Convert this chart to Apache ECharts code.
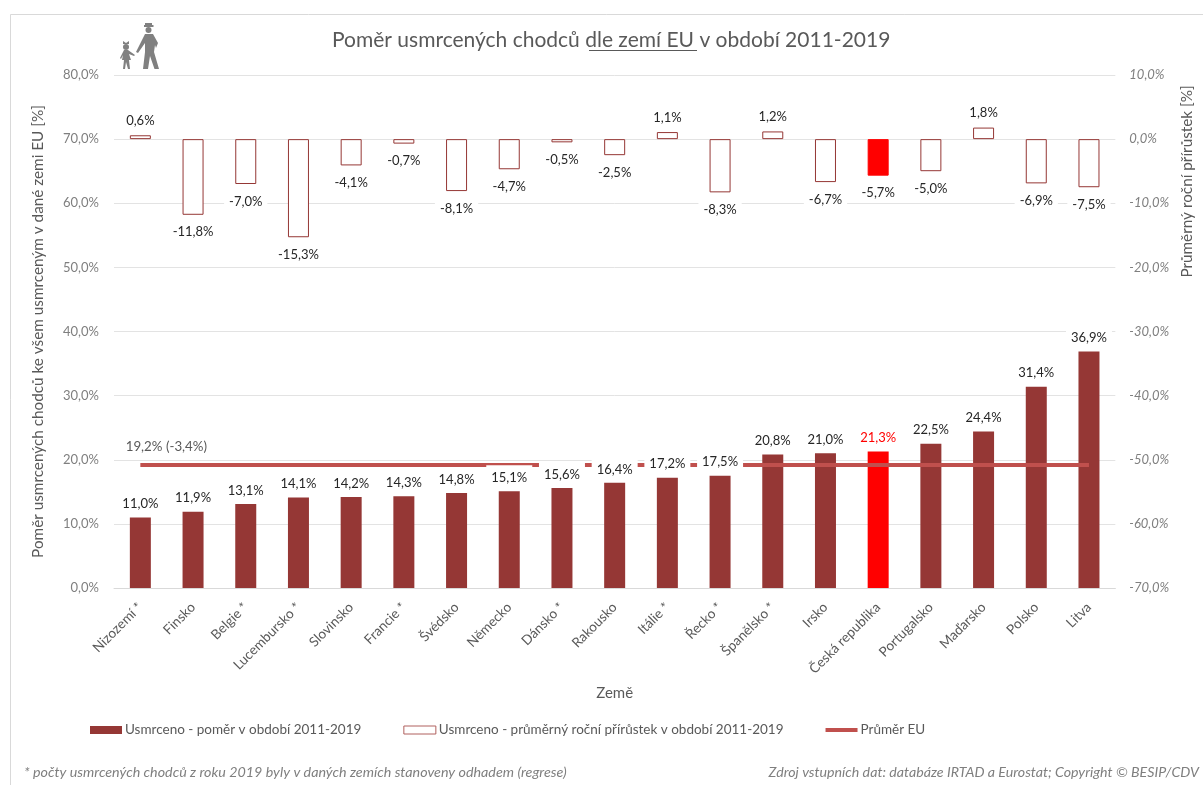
<!DOCTYPE html>
<html><head><meta charset="utf-8">
<style>html,body{margin:0;padding:0;background:#fff}#c{width:1203px;height:785px}</style>
<script src="https://cdn.jsdelivr.net/npm/echarts@6/dist/echarts.min.js"></script>
</head><body><div id="c"></div>
<script>
const countries = ['Nizozemí *','Finsko','Belgie *','Lucembursko *','Slovinsko','Francie *','Švédsko','Německo','Dánsko *','Rakousko','Itálie *','Řecko *','Španělsko *','Irsko','Česká republika','Portugalsko','Maďarsko','Polsko','Litva'];
const shareValues = [11.0,11.9,13.1,14.1,14.2,14.3,14.8,15.1,15.6,16.4,17.2,17.5,20.8,21.0,21.3,22.5,24.4,31.4,36.9];
const growthValues = [0.6,-11.8,-7.0,-15.3,-4.1,-0.7,-8.1,-4.7,-0.5,-2.5,1.1,-8.3,1.2,-6.7,-5.7,-5.0,1.8,-6.9,-7.5];
const euAverage = [19.2,19.2,19.2,19.2,19.2,19.2,19.2,19.2,19.2,19.2,19.2,19.2,19.2,19.2,19.2,19.2,19.2,19.2,19.2];
const euAverageLabel = '19,2% (-3,4%)';
const highlighted = 'Česká republika';
const seriesNames = ['Usmrceno - poměr v období 2011-2019','Usmrceno - průměrný roční přírůstek v období 2011-2019','Průměr EU'];

const FONT = 'Lato';
const DARK = '#953735', RED = '#ff0000', LINE = '#c0504d', GREY = '#7f7f7f', TXT = '#595959', INK = '#262626';
const pct = v => v.toFixed(1).replace('.', ',') + '%';
const labelBase = {show:true, fontFamily:FONT, fontSize:13, color:INK, backgroundColor:'#fff'};

const chart = echarts.init(document.getElementById('c'), null, {renderer:'canvas'});
const figure = {fill:'#808080'};
chart.setOption({
  animation:false,
  backgroundColor:'#fff',
  title:{text:'Poměr usmrcených chodců dle zemí EU v období 2011-2019', left:327, top:25,
    textStyle:{fontFamily:FONT, fontSize:21, fontWeight:'normal', color:TXT}},
  grid:{left:114, right:86, top:75, bottom:197, containLabel:false},
  legend:{left:85, top:718, itemWidth:32, itemHeight:8, itemGap:42,
    data:[{name:seriesNames[0],icon:'rect'},{name:seriesNames[1],icon:'rect',itemStyle:{borderWidth:1,borderColor:'#b0605e'}},
          {name:seriesNames[2],icon:'path://M0,0L0,0M0,2H32V6H0ZM32,8L32,8'}],
    textStyle:{fontFamily:FONT, fontSize:13.5, color:TXT, padding:[0,0,0,-2]}},
  xAxis:{type:'category', data:countries, axisTick:{show:false},
    axisLine:{lineStyle:{color:'#d9d9d9'}, onZero:false},
    axisLabel:{rotate:45, interval:0, margin:17, fontFamily:FONT, fontSize:13.6, color:TXT},
    name:'Země', nameLocation:'middle', nameGap:98,
    nameTextStyle:{fontFamily:FONT, fontSize:15, color:TXT}},
  yAxis:[
    {type:'value', min:0, max:80, interval:10, position:'left',
      axisLine:{show:false}, axisTick:{show:false},
      splitLine:{lineStyle:{color:'#e3e3e3'}},
      axisLabel:{formatter:pct, margin:15, fontFamily:FONT, fontSize:13, color:GREY},
      name:'Poměr usmrcených chodců ke všem usmrceným v dané zemi EU [%]', nameLocation:'middle', nameGap:68, nameRotate:90,
      nameTextStyle:{fontFamily:FONT, fontSize:15.3, color:TXT}},
    {type:'value', min:-70, max:10, interval:10, position:'right',
      axisLine:{show:false}, axisTick:{show:false}, splitLine:{show:false},
      axisLabel:{formatter:pct, margin:14, fontStyle:'italic', fontFamily:FONT, fontSize:13, color:GREY},
      name:'Průměrný roční přírůstek [%]', nameLocation:'middle', nameGap:64, nameRotate:90,
      nameTextStyle:{fontFamily:FONT, fontSize:15.3, color:TXT, padding:[0,0,0,300]}}
  ],
  series:[
    {name:seriesNames[0], type:'bar', yAxisIndex:0, barWidth:21, barGap:'-100%', z:2,
      itemStyle:{color:DARK},
      data:shareValues.map((v,i)=>countries[i]===highlighted?{value:v,itemStyle:{color:RED}}:v)},
    {name:seriesNames[1], type:'bar', yAxisIndex:1, barWidth:21, barGap:'-100%', z:2,
      itemStyle:{color:'#fff', borderColor:DARK, borderWidth:1},
      label:{...labelBase, padding:[1,5], position:'outside', distance:6, formatter:p=>pct(p.value)},
      data:growthValues.map((v,i)=>{
        const item={value:v,label:{distance:v<0?10:7}};
        if(countries[i]===highlighted) item.itemStyle={color:RED,borderColor:RED};
        return item;})},
    {name:seriesNames[2], type:'line', yAxisIndex:0, z:4, symbol:'circle', symbolSize:0, showSymbol:true, showAllSymbol:true,
      lineStyle:{color:LINE, width:4}, itemStyle:{color:LINE},
      label:{show:true, position:'top', distance:12, offset:[26,0], fontFamily:FONT, fontSize:13.3, color:TXT,
        formatter:p=>p.dataIndex===0?euAverageLabel:''},
      data:euAverage},
    {name:'popisky', type:'bar', yAxisIndex:0, barWidth:21, barGap:'-100%', z:5, silent:true,
      itemStyle:{color:'transparent'},
      label:{...labelBase, padding:[6,5,1,5], position:'top', distance:6, formatter:p=>pct(p.value)},
      data:shareValues.map((v,i)=>countries[i]===highlighted?{value:v,label:{color:RED}}:v)}
  ],
  graphic:[
    {type:'polyline', silent:true, shape:{points:[[10.5,785],[10.5,14.5],[1203,14.5]]}, style:{stroke:'#d9d9d9', lineWidth:1, fill:null}},
    {type:'line', silent:true, shape:{x1:589,y1:50.5,x2:697,y2:50.5}, style:{stroke:TXT, lineWidth:1}},
    {type:'text', silent:true, x:24, y:765, style:{text:'* počty usmrcených chodců z roku 2019 byly v daných zemích stanoveny odhadem (regrese)', font:'italic 14.3px '+FONT, fill:GREY}},
    {type:'text', silent:true, x:1199, y:765, style:{text:'Zdroj vstupních dat: databáze IRTAD a Eurostat; Copyright © BESIP/CDV', font:'italic 14.2px '+FONT, fill:GREY, align:'right'}},
    {type:'group', silent:true, children:[
      {type:'polygon', shape:{points:[[145,23],[152,23],[152,25],[153.5,25],[153.5,27],[144,27],[144,25],[145,25]]}, style:figure},
      {type:'circle', shape:{cx:148.5,cy:30,r:3}, style:figure},
      {type:'polygon', shape:{points:[[145,34],[153,34],[158,43],[156,48],[155,45],[154,52],[159,69],[154.5,69],[150,56],[148,69],[143,69],[145,52],[145,43],[138,53],[136,52]]}, style:figure},
      {type:'circle', shape:{cx:126,cy:47,r:3}, style:figure},
      {type:'polygon', shape:{points:[[123,41],[126,43],[129,41],[129,44],[123,44]]}, style:figure},
      {type:'polygon', shape:{points:[[124,50],[128,50],[135,55],[134,56],[129,54],[131,60],[129,60],[130,69],[128,69],[126,62],[125,69],[123,69],[124,60],[122,60],[123,55],[121,59],[120,58]]}, style:figure}
    ]}
  ]
});
</script></body></html>
